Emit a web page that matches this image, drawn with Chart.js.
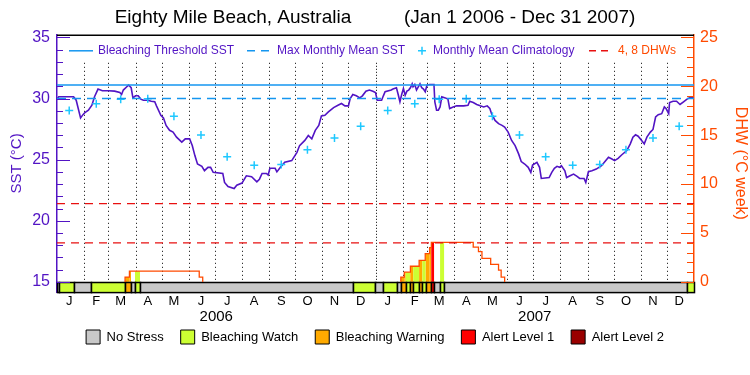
<!DOCTYPE html>
<html>
<head>
<meta charset="utf-8">
<title>Eighty Mile Beach, Australia</title>
<script src="https://cdn.jsdelivr.net/npm/chart.js@4.4.1/dist/chart.umd.min.js"></script>
<style>
  html, body { margin: 0; padding: 0; background: #fff; }
  #wrap { width: 750px; height: 375px; }
</style>
</head>
<body>
<div id="wrap"><canvas id="myChart"></canvas></div>
<script>
// Values (day 0 = Jan 1 2006, day 730 = Jan 1 2008)
const monthLetters = ['J', 'F', 'M', 'A', 'M', 'J', 'J', 'A', 'S', 'O', 'N', 'D'];
const years = ['2006', '2007'];
const yearMids = [182.5, 547.5];
const monthStarts = [0, 31, 59, 90, 120, 151, 181, 212, 243, 273, 304, 334,
    365, 396, 424, 455, 485, 516, 546, 577, 608, 638, 669, 699, 730];

// daily SST (sampled where the curve changes)
const sstDays = [0, 2, 19, 22, 27, 30, 32, 36, 40, 43, 47, 52, 59, 66, 72, 74, 76, 80, 82, 85,
    87, 90, 93, 96, 99, 104, 108, 112, 114, 119, 122, 125, 129, 133, 137, 143, 147, 152, 155, 158,
    161, 166, 169, 173, 176, 179, 190, 192, 196, 203, 206, 212, 217, 223, 229, 232, 235, 240, 242, 244,
    250, 252, 256, 261, 269, 275, 278, 284, 288, 292, 296, 300, 303, 307, 311, 317, 322, 326, 330, 334,
    336, 339, 343, 347, 350, 354, 358, 362, 365, 367, 372, 374, 376, 383, 385, 389, 391, 393, 395, 397,
    399, 401, 403, 405, 407, 408, 410, 412, 416, 418, 420, 422, 424, 427, 432, 433, 435, 437, 439, 441,
    445, 448, 450, 454, 458, 466, 471, 473, 477, 481, 485, 489, 493, 496, 498, 502, 506, 510, 513, 517,
    521, 525, 529, 532, 536, 540, 543, 545, 550, 553, 555, 564, 567, 570, 573, 576, 578, 580, 582, 584,
    588, 592, 596, 599, 604, 606, 609, 613, 618, 624, 628, 632, 636, 639, 643, 647, 653, 657, 660, 663,
    666, 670, 673, 676, 680, 683, 686, 689, 693, 696, 698, 701, 702, 706, 710, 714, 718, 722, 725, 729];
const sstValues = [29.95, 30.14, 30.14, 29.86, 28.41, 28.7, 28.85, 29.04, 29.45, 30.14, 30.77, 30.63, 30.63, 30.6, 30.49, 30.33, 30.69, 30.96, 31.1, 30.88,
    30.05, 30.22, 30.22, 29.95, 29.86, 29.86, 29.78, 29.73, 29.4, 28.63, 28.41, 27.8, 27.4, 27.25, 26.84, 26.43, 26.7, 26.7, 26.15, 25.33,
    24.64, 24.45, 24.1, 24.37, 24.37, 23.96, 23.87, 23.13, 22.8, 22.64, 22.91, 23.08, 23.68, 23.6, 23.19, 23.4, 23.87, 23.87, 23.74, 24.29,
    24.29, 24.0, 24.37, 24.78, 24.92, 25.6, 26.15, 26.57, 26.98, 26.7, 27.39, 27.8, 28.57, 28.63, 28.9, 29.26, 29.45, 29.59, 29.4, 29.4,
    30.0, 30.33, 30.22, 30.05, 30.22, 30.6, 30.69, 30.6, 30.49, 29.86, 29.86, 30.22, 30.55, 30.69, 30.77, 30.88, 30.33, 29.73, 30.33, 30.82,
    30.27, 30.6, 30.69, 30.88, 31.2, 30.96, 31.15, 30.69, 31.2, 30.88, 30.77, 30.55, 31.1, 31.15, 31.15, 29.73, 29.04, 29.04, 29.31, 30.14,
    30.05, 29.95, 29.18, 29.31, 29.4, 29.4, 29.45, 29.78, 29.67, 29.51, 29.4, 29.31, 29.4, 29.18, 28.76, 28.21, 27.94, 27.8, 27.66, 27.25,
    26.57, 26.15, 25.47, 24.84, 24.64, 24.37, 23.96, 24.56, 24.78, 24.37, 23.46, 23.54, 23.96, 24.29, 24.45, 24.37, 24.5, 24.29, 24.09, 23.54,
    23.68, 23.82, 23.63, 23.46, 23.46, 23.13, 24.01, 24.09, 24.23, 24.5, 24.84, 25.19, 25.05, 24.92, 25.11, 25.38, 25.74, 26.29, 26.84, 27.03,
    26.92, 26.57, 26.29, 26.84, 27.25, 27.47, 28.49, 28.68, 28.76, 29.31, 29.18, 28.76, 29.67, 29.78, 29.78, 29.51, 29.73, 29.95, 30.05, 30.08];

// monthly mean climatology, Jan..Dec
const climatology = [29.02, 29.57, 29.93, 29.99, 28.55, 27.02, 25.23, 24.54, 24.6, 25.8, 26.77, 27.73];
const maxMonthlyMean = 30.0;
const bleachingThreshold = 31.1;
const dhwLevels = [4, 8];

// degree heating weeks, each value holds from its day until the next one
const dhwDays = [78, 78, 83, 163, 167, 280, 394, 394, 398, 405, 415, 422, 427, 429, 477, 483, 487, 497, 506, 509, 513];
const dhwValues = [0, 0.5, 1.1, 0.5, 0, null, 0, 0.5, 1.0, 1.6, 2.2, 2.9, 3.5, 4.05, 3.55, 3.1, 2.4, 1.8, 1.2, 0.5, 0];

// stress level periods: level i runs from stressBreaks[i] to stressBreaks[i+1]
const stressBreaks = [0, 2, 19.5, 39.3, 78.3, 84.8, 89.4, 95.1, 338.8, 364.4, 373.2, 390, 394.2, 399.6,
    404.5, 408.3, 414.9, 418.7, 422.6, 428.6, 432.1, 439, 443.6, 722.4, 730];
const stressLevel = [0, 1, 0, 1, 2, 0, 1, 0, 1, 0, 1, 0, 2, 1, 2, 1, 2, 1, 2, 3, 0, 1, 0, 1];
const stressNames = ['No Stress', 'Bleaching Watch', 'Bleaching Warning', 'Alert Level 1', 'Alert Level 2'];
const stressColors = ['#c8c8c8', '#ccff33', '#ffaa00', '#ff0000', '#990000'];

const purple = '#5214c4';
const orange = '#ff4a00';
const blue = '#1496f0';
const cyan = '#1ec8ff';
const red = '#e81010';
const fontFamily = "'Liberation Sans', Arial, sans-serif";

Chart.defaults.font.family = fontFamily;
Chart.defaults.color = '#000';

function dhwAt(day) {
    let v = 0;
    for (let i = 0; i < dhwDays.length; i++) {
        if (dhwDays[i] <= day) v = dhwValues[i] || 0;
    }
    return v;
}

const monthMids = monthStarts.slice(0, 24).map(d => d + 14);

const sstPoints = sstDays.map((d, i) => ({ x: d, y: sstValues[i] }));
const climPoints = monthMids.map((d, i) => ({ x: d, y: climatology[i % 12] }));
const dhwPoints = dhwDays.map((d, i) => ({ x: d, y: dhwValues[i] }));
const hLine = v => [{ x: 0, y: v }, { x: 730, y: v }];

// stress bar, DHW bars, month lines, inward ticks, in-plot legend, year labels
const decor = {
    id: 'decor',
    beforeDatasetsDraw(chart) {
        const { ctx, chartArea, scales } = chart;
        const x = scales.x, y = scales.y, y2 = scales.y2;
        const barTop = y.getPixelForValue(15);
        const barBot = chartArea.bottom;
        ctx.save();
        // dotted month boundaries
        ctx.strokeStyle = '#000';
        ctx.lineWidth = 1;
        monthStarts.slice(1, 24).forEach(d => {
            const px = Math.round(x.getPixelForValue(d)) + 0.5;
            ctx.setLineDash(d === 365 ? [1, 2] : [1, 3]);
            ctx.beginPath();
            ctx.moveTo(px, chartArea.top + 28);
            ctx.lineTo(px, barTop);
            ctx.stroke();
        });
        ctx.setLineDash([]);
        // DHW bars coloured by stress level
        for (let i = 0; i < stressLevel.length; i++) {
            if (stressLevel[i] === 0) continue;
            const a = stressBreaks[i], b = stressBreaks[i + 1];
            const cuts = [a].concat(dhwDays.filter(d => d > a && d < b), [b]);
            for (let k = 0; k < cuts.length - 1; k++) {
                const h = dhwAt(cuts[k] + 0.01);
                if (h <= 0) continue;
                const x0 = x.getPixelForValue(cuts[k]);
                const x1 = x.getPixelForValue(cuts[k + 1]);
                const yt = y2.getPixelForValue(h);
                ctx.fillStyle = stressColors[stressLevel[i]];
                ctx.fillRect(x0, yt, x1 - x0, barTop - yt);
            }
        }
        // stress bar along the bottom
        for (let i = 0; i < stressLevel.length; i++) {
            const x0 = Math.round(x.getPixelForValue(stressBreaks[i]));
            const x1 = Math.round(x.getPixelForValue(stressBreaks[i + 1]));
            ctx.fillStyle = stressColors[stressLevel[i]];
            ctx.fillRect(x0, barTop, x1 - x0, barBot - barTop);
            ctx.strokeStyle = '#000';
            ctx.lineWidth = 1.5;
            ctx.strokeRect(x0 + 0.5, Math.round(barTop) + 0.5, x1 - x0, barBot - barTop);
        }
        ctx.restore();
    },
    afterDatasetsDraw(chart) {
        const { ctx, chartArea, scales } = chart;
        const x = scales.x, y = scales.y, y2 = scales.y2;
        ctx.save();
        // top frame
        ctx.strokeStyle = '#000';
        ctx.lineWidth = 1.5;
        ctx.beginPath();
        ctx.moveTo(chartArea.left, chartArea.top + 0.5);
        ctx.lineTo(chartArea.right, chartArea.top + 0.5);
        ctx.stroke();
        // inward tick marks
        ctx.lineWidth = 1;
        ctx.strokeStyle = purple;
        for (let v = 15; v <= 35; v++) {
            const py = Math.round(y.getPixelForValue(v)) + 0.5;
            ctx.beginPath();
            ctx.moveTo(chartArea.left, py);
            ctx.lineTo(chartArea.left + (v % 5 === 0 ? 13 : 6), py);
            ctx.stroke();
        }
        ctx.strokeStyle = orange;
        for (let v = 0; v <= 25; v++) {
            const py = Math.round(y2.getPixelForValue(v)) + 0.5;
            ctx.beginPath();
            ctx.moveTo(chartArea.right, py);
            ctx.lineTo(chartArea.right - (v % 5 === 0 ? 13 : 7), py);
            ctx.stroke();
        }
        // year labels under the month letters
        ctx.fillStyle = '#000';
        ctx.font = '15px ' + fontFamily;
        ctx.textAlign = 'center';
        ctx.textBaseline = 'middle';
        yearMids.forEach((d, i) => ctx.fillText(years[i], x.getPixelForValue(d), chartArea.bottom + 25));
        ctx.textAlign = 'left';
        // legend inside the plot
        const ly = chartArea.top + 16;
        ctx.font = '12px ' + fontFamily;
        ctx.lineWidth = 1.5;
        ctx.strokeStyle = blue;
        ctx.beginPath(); ctx.moveTo(69, ly); ctx.lineTo(93, ly); ctx.stroke();
        ctx.setLineDash([8, 6]);
        ctx.beginPath(); ctx.moveTo(247, ly); ctx.lineTo(271, ly); ctx.stroke();
        ctx.setLineDash([]);
        ctx.strokeStyle = cyan;
        ctx.beginPath();
        ctx.moveTo(418, ly); ctx.lineTo(426, ly);
        ctx.moveTo(422, ly - 4); ctx.lineTo(422, ly + 4);
        ctx.stroke();
        ctx.strokeStyle = red;
        ctx.setLineDash([7, 5]);
        ctx.beginPath(); ctx.moveTo(589, ly); ctx.lineTo(609, ly); ctx.stroke();
        ctx.setLineDash([]);
        ctx.fillStyle = purple;
        ctx.fillText('Bleaching Threshold SST', 98, ly);
        ctx.fillText('Max Monthly Mean SST', 277, ly);
        ctx.fillText('Monthly Mean Climatology', 433, ly);
        ctx.fillStyle = orange;
        ctx.fillText('4, 8 DHWs', 618, ly);
        ctx.restore();
    }
};

const ctx = document.getElementById('myChart').getContext('2d');
new Chart(ctx, {
    type: 'line',
    data: {
        datasets: [
            { data: hLine(bleachingThreshold), yAxisID: 'y', borderColor: blue, borderWidth: 1.5, pointRadius: 0 },
            { data: hLine(maxMonthlyMean), yAxisID: 'y', borderColor: blue, borderWidth: 1.5, borderDash: [9, 6], pointRadius: 0 },
            { data: hLine(dhwLevels[0]), yAxisID: 'y2', borderColor: red, borderWidth: 1.2, borderDash: [8, 6], pointRadius: 0 },
            { data: hLine(dhwLevels[1]), yAxisID: 'y2', borderColor: red, borderWidth: 1.2, borderDash: [8, 6], pointRadius: 0 },
            { data: dhwPoints, yAxisID: 'y2', borderColor: orange, borderWidth: 1.3, pointRadius: 0, stepped: 'before', spanGaps: false },
            { data: climPoints, yAxisID: 'y', showLine: false, pointStyle: 'cross', pointRadius: 4, borderColor: cyan, borderWidth: 1.5 },
            { data: sstPoints, yAxisID: 'y', borderColor: purple, borderWidth: 1.6, pointRadius: 0, tension: 0 }
        ]
    },
    options: {
        responsive: true,
        maintainAspectRatio: false,
        animation: false,
        layout: { padding: { left: 0, right: 0, top: 0, bottom: 21 } },
        plugins: {
            tooltip: { enabled: false },
            title: {
                display: true,
                text: 'Eighty Mile Beach, Australia          (Jan 1 2006 - Dec 31 2007)',
                font: { size: 19, weight: 'normal' },
                color: '#000',
                padding: { top: 6, bottom: 6 }
            },
            legend: {
                position: 'bottom',
                onClick: null,
                labels: {
                    boxWidth: 14,
                    boxHeight: 14,
                    padding: 17,
                    font: { size: 13 },
                    color: '#000',
                    generateLabels: () => stressNames.map((n, i) => ({
                        text: n, fillStyle: stressColors[i], strokeStyle: '#000', lineWidth: 1, hidden: false
                    }))
                }
            }
        },
        scales: {
            x: {
                type: 'linear', position: 'bottom', min: 0, max: 730,
                grid: { display: false, drawTicks: false },
                border: { color: '#000', width: 1.5 },
                afterBuildTicks: s => { s.ticks = monthMids.map(v => ({ value: v })); },
                afterFit: s => { s.height = 21; },
                ticks: {
                    autoSkip: false, maxRotation: 0, padding: 2, font: { size: 13 }, color: '#000',
                    callback: (v, i) => monthLetters[i % 12]
                }
            },
            y: {
                position: 'left', min: 14.175, max: 35.21,
                grid: { display: false, drawTicks: false },
                border: { color: purple, width: 1.5 },
                afterBuildTicks: s => { s.ticks = [15, 20, 25, 30, 35].map(v => ({ value: v })); },
                afterFit: s => { s.width = 57; },
                ticks: { color: purple, font: { size: 16 }, padding: 7 },
                title: { display: true, text: 'SST (°C)', color: purple, font: { size: 15 }, padding: { top: 8, bottom: 0 } }
            },
            y2: {
                position: 'right', min: -1.03, max: 25.26,
                grid: { display: false, drawTicks: false },
                border: { color: orange, width: 1.5 },
                afterBuildTicks: s => { s.ticks = [0, 5, 10, 15, 20, 25].map(v => ({ value: v })); },
                afterFit: s => { s.width = 56; },
                ticks: { color: orange, font: { size: 16 }, padding: 6 },
                title: { display: true, text: 'DHW (°C week)', color: orange, font: { size: 16 }, padding: { top: 0, bottom: 6 } }
            }
        }
    },
    plugins: [decor]
});
</script>
</body>
</html>
